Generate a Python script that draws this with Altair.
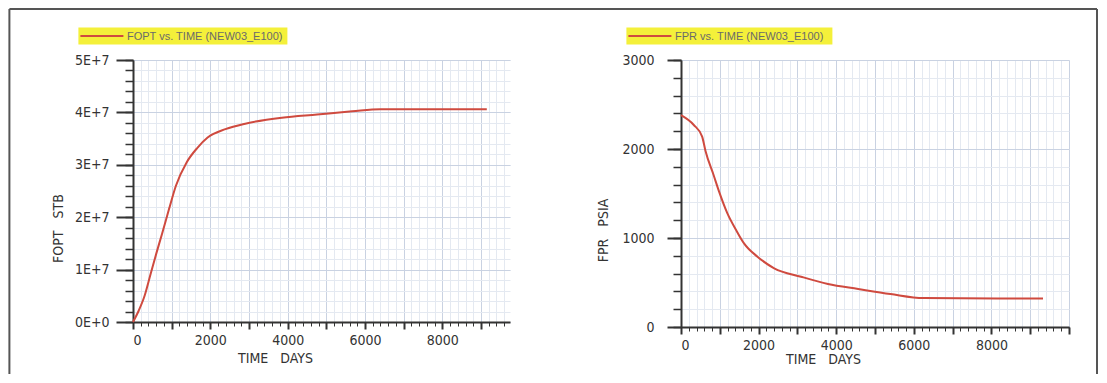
import altair as alt
import pandas as pd

# ---- data ----
fopt_time = [0, 150, 300, 450, 600, 750, 930, 1110, 1390, 1660, 1930, 2390, 2930, 3850, 4760, 5670, 6400, 9150]
fopt_vals = [0, 2.2e6, 5.0e6, 9.0e6, 1.3e7, 1.68e7, 2.15e7, 2.6e7, 3.05e7, 3.32e7, 3.52e7, 3.68e7,
             3.79e7, 3.9e7, 3.96e7, 4.02e7, 4.06e7, 4.06e7]
fpr_time = [0, 330, 545, 630, 846, 975, 1193, 1420, 1624, 1970, 2402, 3095, 3787, 4566, 5400, 6250, 9330]
fpr_vals = [2380, 2270, 2140, 1980, 1700, 1530, 1280, 1090, 940, 790, 660, 565, 483, 427, 370, 325, 320]

fopt_name = "FOPT vs. TIME (NEW03_E100)"
fpr_name = "FPR vs. TIME (NEW03_E100)"

x_major_left = list(range(0, 9001, 1000))
x_major_right = list(range(0, 10001, 1000))
x_minor = list(range(0, 10001, 200))
fopt_major = [0, 1e7, 2e7, 3e7, 4e7, 5e7]
fopt_minor = [i * 2e6 for i in range(26)]
fpr_major = [0, 1000, 2000, 3000]
fpr_minor = list(range(0, 3001, 200))

FONT = "DejaVu Sans Condensed, Liberation Sans, sans-serif"
LEG_FONT = "Liberation Sans, Arial, sans-serif"
INK = "#333333"
RED = "#cf4a3f"
YELLOW = "#f4f03a"
GRID_MAJ = "#c9d2e2"
GRID_MIN = "#e4e9f1"

fopt_df = pd.DataFrame({"t": fopt_time, "v": fopt_vals})
fpr_df = pd.DataFrame({"t": fpr_time, "v": fpr_vals})
one = pd.DataFrame({"k": [0]})


def legend_box(name, box_w):
    src = alt.Chart(one)
    box = src.mark_rect(color=YELLOW).encode(
        x=alt.value(-54.6), x2=alt.value(-54.6 + box_w), y=alt.value(-32.5), y2=alt.value(-15.5))
    line = src.mark_rule(color=RED, strokeWidth=2).encode(
        x=alt.value(-52.6), x2=alt.value(-9.6), y=alt.value(-24))
    text = src.mark_text(text=name, font=LEG_FONT, fontSize=11, color="#6a6a6a",
                         align="left", baseline="middle").encode(
        x=alt.value(-6), y=alt.value(-23.5))
    return [box, line, text]


def panel(df, xdom, x_major, ydom, y_major, y_minor, ylabel_expr, ytitle,
          ytick, ylabpad, ytitle_x, ytitle_y, xtitle_y):
    xs = alt.Scale(domain=xdom, nice=False, zero=False)
    ys = alt.Scale(domain=ydom, nice=False)
    base = alt.Chart(df)
    minor = base.mark_line(strokeOpacity=0).encode(
        x=alt.X("t:Q", scale=xs, axis=alt.Axis(
            orient="bottom", values=x_minor, labels=False, domain=False, title=None,
            tickSize=4, tickColor=INK, tickWidth=1, grid=True, gridColor=GRID_MIN, gridWidth=1)),
        y=alt.Y("v:Q", scale=ys, axis=alt.Axis(
            orient="left", values=y_minor, labels=False, domain=False, title=None,
            tickSize=8, tickColor=INK, tickWidth=1.5, grid=True, gridColor=GRID_MIN, gridWidth=1)),
    )
    major = base.mark_line(strokeWidth=2, color=RED, interpolate="monotone").encode(
        x=alt.X("t:Q", scale=xs, axis=alt.Axis(
            orient="bottom", values=x_major, format="d",
            labelExpr="datum.value % 2000 == 0 && datum.value < 10000 ? datum.label : ''",
            labelFont=FONT, labelFontSize=14, labelColor=INK, labelPadding=4,
            tickSize=7, tickColor=INK, tickWidth=2, domainColor=INK, domainWidth=2,
            grid=True, gridColor=GRID_MAJ, gridWidth=1,
            title="TIME\u00a0\u00a0\u00a0DAYS", titleFont=FONT, titleFontSize=14,
            titleFontWeight="normal", titleColor=INK, titleX=142, titleY=xtitle_y,
            titleAlign="center", titleBaseline="middle")),
        y=alt.Y("v:Q", scale=ys, axis=alt.Axis(
            orient="left", values=y_major, labelExpr=ylabel_expr,
            labelFont=FONT, labelFontSize=14, labelColor=INK, labelPadding=ylabpad,
            tickSize=ytick, tickColor=INK, tickWidth=2, domainColor=INK, domainWidth=2,
            grid=True, gridColor=GRID_MAJ, gridWidth=1,
            title=ytitle, titleFont=FONT, titleFontSize=14, titleFontWeight="normal",
            titleColor=INK, titleX=ytitle_x, titleY=ytitle_y, titleAngle=270,
            titleAlign="center", titleBaseline="middle")),
    )
    return minor, major


lm, lM = panel(fopt_df, [0, 9750], x_major_left, [0, 5e7], fopt_major, fopt_minor,
               "datum.value == 0 ? '0E+0' : format(datum.value / 1e7, 'd') + 'E+7'",
               "FOPT\u00a0\u00a0\u00a0STB", 17, 7, -75, 168, 36)
rm, rM = panel(fpr_df, [0, 10000], x_major_right, [0, 3000], fpr_major, fpr_minor,
               "format(datum.value, 'd')",
               "FPR\u00a0\u00a0\u00a0PSIA", 14, 13, -78, 170, 32)

frame_src = alt.Chart(one)
frame_l = frame_src.mark_rule(color="#555555", strokeWidth=2).encode(
    x=alt.value(-123.6), y=alt.value(-51), y2=alt.value(314))
frame_t = frame_src.mark_rule(color="#555555", strokeWidth=2).encode(
    x=alt.value(-123.6), x2=alt.value(964), y=alt.value(-51))
frame_r = frame_src.mark_rule(color="#555555", strokeWidth=2).encode(
    x=alt.value(964), y=alt.value(-51), y2=alt.value(314))

left = alt.layer(lm, lM, *legend_box(fopt_name, 209), frame_l, frame_t, frame_r).resolve_axis(
    x="independent", y="independent").properties(width=377, height=262)
right = alt.layer(rm, rM, *legend_box(fpr_name, 206)).resolve_axis(
    x="independent", y="independent").properties(width=388, height=267)

chart = alt.hconcat(left, right, spacing=171, bounds="flush").configure(
    padding=0, background="white").configure_view(stroke=None)

chart.save("out.html", embed_options={"renderer": "svg", "actions": False})
